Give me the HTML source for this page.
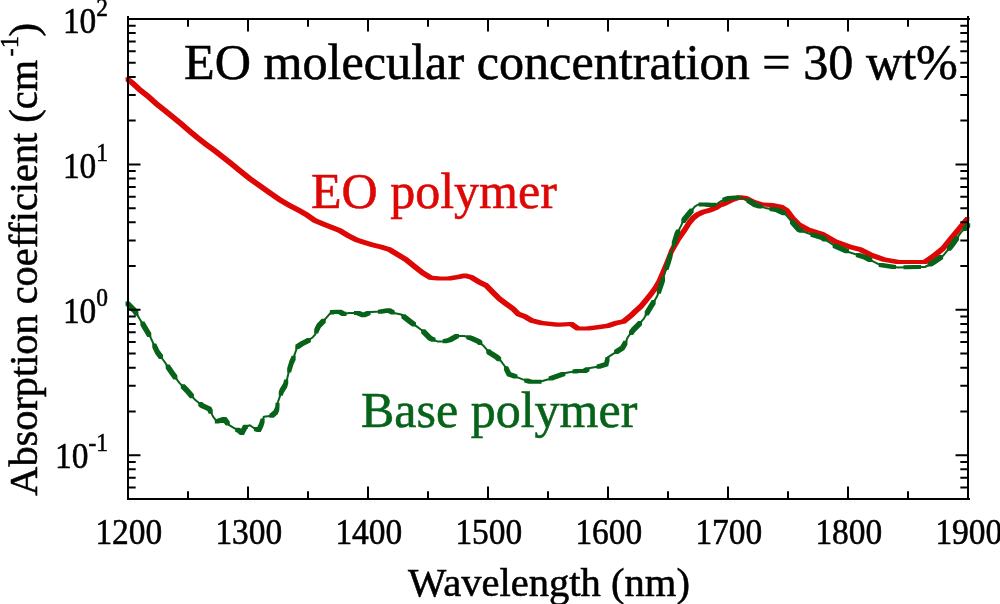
<!DOCTYPE html>
<html><head><meta charset="utf-8"><style>
html,body{margin:0;padding:0;background:#fff;}
svg{display:block;will-change:transform;}
text{font-family:"Liberation Serif",serif;font-variant-ligatures:none;}
</style></head><body>
<svg width="1000" height="604" viewBox="0 0 1000 604">
<rect width="1000" height="604" fill="#fff"/>
<g fill="none" stroke-linejoin="round" stroke-linecap="round">
<path d="M125.60,77.30L129.60,77.30L135.00,81.50L135.00,85.50L131.00,85.50L125.60,81.30ZM131.00,81.50L135.00,81.50L142.00,87.90L142.00,91.90L138.00,91.90L131.00,85.50ZM138.00,87.90L142.00,87.90L150.30,94.60L150.30,98.60L146.30,98.60L138.00,91.90ZM146.30,94.60L150.30,94.60L158.60,102.00L158.60,106.00L154.60,106.00L146.30,98.60ZM154.60,102.00L158.60,102.00L166.80,108.60L166.80,112.60L162.80,112.60L154.60,106.00ZM162.80,108.60L166.80,108.60L175.10,115.30L175.10,119.30L171.10,119.30L162.80,112.60ZM171.10,115.30L175.10,115.30L183.40,121.90L183.40,125.90L179.40,125.90L171.10,119.30ZM179.40,121.90L183.40,121.90L191.70,129.30L191.70,133.30L187.70,133.30L179.40,125.90ZM187.70,129.30L191.70,129.30L199.90,135.90L199.90,139.90L195.90,139.90L187.70,133.30ZM195.90,135.90L199.90,135.90L208.20,142.60L208.20,146.60L204.20,146.60L195.90,139.90ZM204.20,142.60L208.20,142.60L216.50,148.40L216.50,152.40L212.50,152.40L204.20,146.60ZM212.50,148.40L216.50,148.40L224.80,155.00L224.80,159.00L220.80,159.00L212.50,152.40ZM220.80,155.00L224.80,155.00L233.10,161.60L233.10,165.60L229.10,165.60L220.80,159.00ZM229.10,161.60L233.10,161.60L241.60,168.60L241.60,172.60L237.60,172.60L229.10,165.60ZM237.60,168.60L241.60,168.60L251.90,176.80L251.90,180.80L247.90,180.80L237.60,172.60ZM247.90,176.80L251.90,176.80L261.80,183.70L261.80,187.70L257.80,187.70L247.90,180.80ZM257.80,183.70L261.80,183.70L271.70,190.70L271.70,194.70L267.70,194.70L257.80,187.70ZM267.70,190.70L271.70,190.70L281.70,197.70L281.70,201.70L277.70,201.70L267.70,194.70ZM277.70,197.70L281.70,197.70L292.00,203.70L292.00,207.70L288.00,207.70L277.70,201.70ZM288.00,203.70L292.00,203.70L300.30,207.90L300.30,211.90L296.30,211.90L288.00,207.70ZM296.30,207.90L300.30,207.90L308.60,212.80L308.60,216.80L304.60,216.80L296.30,211.90ZM304.60,212.80L308.60,212.80L316.80,218.60L316.80,222.60L312.80,222.60L304.60,216.80ZM312.80,218.60L316.80,218.60L325.10,221.90L325.10,225.90L321.10,225.90L312.80,222.60ZM321.10,221.90L325.10,221.90L333.40,225.30L333.40,229.30L329.40,229.30L321.10,225.90ZM329.40,225.30L333.40,225.30L341.70,228.60L341.70,232.60L337.70,232.60L329.40,229.30ZM337.70,228.60L341.70,228.60L349.90,233.50L349.90,237.50L345.90,237.50L337.70,232.60ZM345.90,233.50L349.90,233.50L358.20,237.70L358.20,241.70L354.20,241.70L345.90,237.50ZM354.20,237.70L358.20,237.70L366.50,240.60L366.50,244.60L362.50,244.60L354.20,241.70ZM362.50,240.60L366.50,240.60L374.80,243.00L374.80,247.00L370.80,247.00L362.50,244.60ZM370.80,243.00L374.80,243.00L383.10,245.10L383.10,249.10L379.10,249.10L370.80,247.00ZM379.10,245.10L383.10,245.10L391.30,247.60L391.30,251.60L387.30,251.60L379.10,249.10ZM387.30,247.60L391.30,247.60L399.60,252.60L399.60,256.60L395.60,256.60L387.30,251.60ZM395.60,252.60L399.60,252.60L407.90,257.50L407.90,261.50L403.90,261.50L395.60,256.60ZM403.90,257.50L407.90,257.50L416.20,264.20L416.20,268.20L412.20,268.20L403.90,261.50ZM412.20,264.20L416.20,264.20L424.50,270.80L424.50,274.80L420.50,274.80L412.20,268.20ZM420.50,270.80L424.50,270.80L432.70,275.70L432.70,279.70L428.70,279.70L420.50,274.80ZM428.70,275.70L432.70,275.70L441.00,276.60L441.00,280.60L437.00,280.60L428.70,279.70ZM437.00,276.60L446.90,276.40L450.90,276.40L450.90,280.40L441.00,280.60L437.00,280.60ZM446.90,276.40L457.70,274.80L461.70,274.80L461.70,278.80L450.90,280.40L446.90,280.40ZM457.70,274.80L462.60,273.60L466.60,273.60L466.60,277.60L461.70,278.80L457.70,278.80ZM462.60,273.60L466.60,273.60L473.30,275.30L473.30,279.30L469.30,279.30L462.60,277.60ZM469.30,275.30L473.30,275.30L481.50,280.20L481.50,284.20L477.50,284.20L469.30,279.30ZM477.50,280.20L481.50,280.20L488.20,283.50L488.20,287.50L484.20,287.50L477.50,284.20ZM484.20,283.50L488.20,283.50L494.80,290.20L494.80,294.20L490.80,294.20L484.20,287.50ZM490.80,290.20L494.80,290.20L501.40,296.80L501.40,300.80L497.40,300.80L490.80,294.20ZM497.40,296.80L501.40,296.80L507.00,301.00L507.00,305.00L503.00,305.00L497.40,300.80ZM503.00,301.00L507.00,301.00L515.30,307.00L515.30,311.00L511.30,311.00L503.00,305.00ZM511.30,307.00L515.30,307.00L520.20,312.00L520.20,316.00L516.20,316.00L511.30,311.00ZM516.20,312.00L520.20,312.00L526.90,314.50L526.90,318.50L522.90,318.50L516.20,316.00ZM522.90,314.50L526.90,314.50L533.50,318.60L533.50,322.60L529.50,322.60L522.90,318.50ZM529.50,318.60L533.50,318.60L543.40,321.10L543.40,325.10L539.40,325.10L529.50,322.60ZM539.40,321.10L543.40,321.10L560.00,322.80L560.00,326.80L556.00,326.80L539.40,325.10ZM556.00,322.80L569.20,321.90L573.20,321.90L573.20,325.90L560.00,326.80L556.00,326.80ZM569.20,321.90L573.20,321.90L579.80,326.40L579.80,330.40L575.80,330.40L569.20,325.90ZM575.80,326.40L589.80,326.40L589.80,330.40L575.80,330.40ZM585.80,326.40L595.70,325.20L599.70,325.20L599.70,329.20L589.80,330.40L585.80,330.40ZM595.70,325.20L606.20,323.80L610.20,323.80L610.20,327.80L599.70,329.20L595.70,329.20ZM606.20,323.80L614.20,321.10L618.20,321.10L618.20,325.10L610.20,327.80L606.20,327.80ZM614.20,321.10L621.60,319.50L625.60,319.50L625.60,323.50L618.20,325.10L614.20,325.10ZM621.60,319.50L629.00,313.50L633.00,313.50L633.00,317.50L625.60,323.50L621.60,323.50ZM629.00,313.50L634.00,308.80L638.00,308.80L638.00,312.80L633.00,317.50L629.00,317.50ZM634.00,308.80L639.00,304.20L643.00,304.20L643.00,308.20L638.00,312.80L634.00,312.80ZM639.00,304.20L644.00,298.30L648.00,298.30L648.00,302.30L643.00,308.20L639.00,308.20ZM644.00,298.30L649.00,292.00L653.00,292.00L653.00,296.00L648.00,302.30L644.00,302.30ZM649.00,292.00L653.00,286.50L657.00,286.50L657.00,290.50L653.00,296.00L649.00,296.00ZM653.00,286.50L656.80,280.00L660.80,280.00L660.80,284.00L657.00,290.50L653.00,290.50ZM656.80,280.00L659.80,273.00L663.80,273.00L663.80,277.00L660.80,284.00L656.80,284.00ZM659.80,273.00L662.80,266.00L666.80,266.00L666.80,270.00L663.80,277.00L659.80,277.00ZM662.80,266.00L665.30,260.00L669.30,260.00L669.30,264.00L666.80,270.00L662.80,270.00ZM665.30,260.00L669.80,248.60L673.80,248.60L673.80,252.60L669.30,264.00L665.30,264.00ZM669.80,248.60L677.00,236.00L681.00,236.00L681.00,240.00L673.80,252.60L669.80,252.60ZM677.00,236.00L682.80,227.70L686.80,227.70L686.80,231.70L681.00,240.00L677.00,240.00ZM682.80,227.70L687.00,221.10L691.00,221.10L691.00,225.10L686.80,231.70L682.80,231.70ZM687.00,221.10L691.10,216.10L695.10,216.10L695.10,220.10L691.00,225.10L687.00,225.10ZM691.10,216.10L695.30,212.80L699.30,212.80L699.30,216.80L695.10,220.10L691.10,220.10ZM695.30,212.80L701.00,209.90L705.00,209.90L705.00,213.90L699.30,216.80L695.30,216.80ZM701.00,209.90L707.70,208.30L711.70,208.30L711.70,212.30L705.00,213.90L701.00,213.90ZM707.70,208.30L714.30,205.40L718.30,205.40L718.30,209.40L711.70,212.30L707.70,212.30ZM714.30,205.40L717.60,203.20L721.60,203.20L721.60,207.20L718.30,209.40L714.30,209.40ZM717.60,203.20L721.50,201.90L725.50,201.90L725.50,205.90L721.60,207.20L717.60,207.20ZM721.50,201.90L729.50,197.90L733.50,197.90L733.50,201.90L725.50,205.90L721.50,205.90ZM729.50,197.90L737.40,195.30L741.40,195.30L741.40,199.30L733.50,201.90L729.50,201.90ZM737.40,195.30L741.40,195.30L747.40,195.90L747.40,199.90L743.40,199.90L737.40,199.30ZM743.40,195.90L747.40,195.90L755.30,199.90L755.30,203.90L751.30,203.90L743.40,199.90ZM751.30,199.90L755.30,199.90L763.30,202.50L763.30,206.50L759.30,206.50L751.30,203.90ZM759.30,202.50L763.30,202.50L773.20,202.90L773.20,206.90L769.20,206.90L759.30,206.50ZM769.20,202.90L773.20,202.90L783.20,204.90L783.20,208.90L779.20,208.90L769.20,206.90ZM779.20,204.90L783.20,204.90L789.10,208.80L789.10,212.80L785.10,212.80L779.20,208.90ZM785.10,208.80L789.10,208.80L795.10,216.80L795.10,220.80L791.10,220.80L785.10,212.80ZM791.10,216.80L795.10,216.80L801.00,222.80L801.00,226.80L797.00,226.80L791.10,220.80ZM797.00,222.80L801.00,222.80L810.00,227.70L810.00,231.70L806.00,231.70L797.00,226.80ZM806.00,227.70L810.00,227.70L824.40,232.20L824.40,236.20L820.40,236.20L806.00,231.70ZM820.40,232.20L824.40,232.20L837.00,239.40L837.00,243.40L833.00,243.40L820.40,236.20ZM833.00,239.40L837.00,239.40L851.40,244.80L851.40,248.80L847.40,248.80L833.00,243.40ZM847.40,244.80L851.40,244.80L862.20,247.50L862.20,251.50L858.20,251.50L847.40,248.80ZM858.20,247.50L862.20,247.50L873.00,252.90L873.00,256.90L869.00,256.90L858.20,251.50ZM869.00,252.90L873.00,252.90L885.60,257.40L885.60,261.40L881.60,261.40L869.00,256.90ZM881.60,257.40L885.60,257.40L900.00,260.10L900.00,264.10L896.00,264.10L881.60,261.40ZM896.00,260.10L914.40,260.10L914.40,264.10L896.00,264.10ZM910.40,260.10L927.00,260.10L927.00,264.10L910.40,264.10ZM923.00,260.10L932.00,253.80L936.00,253.80L936.00,257.80L927.00,264.10L923.00,264.10ZM932.00,253.80L941.00,246.60L945.00,246.60L945.00,250.60L936.00,257.80L932.00,257.80ZM941.00,246.60L948.20,237.60L952.20,237.60L952.20,241.60L945.00,250.60L941.00,250.60ZM948.20,237.60L957.20,226.80L961.20,226.80L961.20,230.80L952.20,241.60L948.20,241.60ZM957.20,226.80L965.30,216.90L969.30,216.90L969.30,220.90L961.20,230.80L957.20,230.80Z" fill="#dd0806" stroke="none"/>
<polyline points="127.5,303.6 134.9,311.1 142.4,323.5 149.8,335.9 157.3,352.0 164.7,362.0 172.1,373.1 179.6,383.1 187.0,390.5 194.5,399.2 201.9,405.4 209.4,409.1 213.1,416.6 216.8,421.5 224.3,419.0 229.2,425.2 235.0,428.7 239.0,430.6 242.0,433.1 244.9,427.2 249.9,425.2 254.9,428.7 258.8,430.1 261.3,424.7 263.8,416.7 267.8,416.2 271.7,415.7 275.7,412.3 277.2,408.8 277.7,402.8 279.7,396.9 281.7,390.9 285.1,385.5 287.3,378.0 289.5,369.0 291.5,362.5 293.4,358.6 294.9,353.6 297.4,346.7 301.9,343.7 307.8,340.7 312.8,337.2 315.3,334.3 316.8,329.8 318.8,325.8 322.7,321.8 326.7,317.4 329.7,313.9 332.7,311.9 339.6,311.7 343.6,313.9 349.0,313.0 358.0,313.0 363.4,315.2 370.6,312.1 381.4,311.6 388.6,310.3 394.0,313.0 401.2,314.4 408.4,320.2 415.6,325.6 422.8,331.0 430.0,338.2 437.2,341.4 444.4,341.4 449.8,340.0 457.0,336.0 464.2,336.0 471.4,338.2 478.6,341.4 484.0,346.3 489.4,352.6 496.6,357.1 500.0,359.8 505.4,367.0 509.0,374.2 516.2,376.9 523.4,379.6 530.6,381.8 539.6,381.8 548.6,379.2 557.6,376.0 566.6,372.8 577.4,371.0 584.6,371.0 590.0,367.9 599.0,366.6 606.2,364.3 608.0,357.1 615.2,352.6 622.4,348.1 626.0,341.8 627.5,337.7 633.4,329.7 638.7,324.4 643.9,318.6 648.9,309.7 653.9,301.7 656.8,296.8 658.8,291.8 660.8,285.8 662.8,279.9 664.8,272.9 666.8,267.0 668.8,261.0 671.8,250.6 676.6,234.7 680.7,226.4 684.0,219.8 688.1,214.8 691.5,210.7 694.8,206.6 698.1,204.5 705.5,204.5 709.7,204.9 716.3,204.5 719.6,202.0 721.5,200.9 729.5,197.9 739.4,197.3 747.4,199.9 755.3,204.9 765.2,207.9 777.2,209.9 785.1,213.8 791.1,220.8 799.0,229.7 808.0,233.3 822.4,237.8 835.0,245.9 849.4,252.2 865.6,257.6 880.0,264.8 898.0,267.5 916.0,267.0 925.0,267.0 934.0,262.1 943.0,255.8 952.0,245.0 961.0,232.4 968.2,225.2" stroke="#07631a" stroke-width="2"/>
<path d="M125.50,301.60L129.50,301.60L136.90,309.10L136.90,313.10L132.90,313.10L125.50,305.60ZM132.90,309.10L136.90,309.10L138.43,311.64L138.43,315.64L134.43,315.64L132.90,313.10ZM140.39,321.48L144.39,321.48L144.40,321.50L144.40,325.50L140.40,325.50L140.39,325.48ZM140.40,321.50L144.40,321.50L151.30,333.07L151.30,337.07L147.30,337.07L140.40,325.50ZM152.25,343.45L156.25,343.45L159.30,350.00L159.30,354.00L155.30,354.00L152.25,347.45ZM155.30,350.00L159.30,350.00L163.03,355.04L163.03,359.04L159.03,359.04L155.30,354.00ZM165.66,364.44L169.66,364.44L174.10,371.10L174.10,375.10L170.10,375.10L165.66,368.44ZM170.10,371.10L174.10,371.10L177.39,375.49L177.39,379.49L173.39,379.49L170.10,375.10ZM180.77,384.27L184.77,384.27L189.00,388.50L189.00,392.50L185.00,392.50L180.77,388.27ZM185.00,388.50L189.00,388.50L193.91,394.20L193.91,398.20L189.91,398.20L185.00,392.50ZM198.28,402.04L202.28,402.04L203.90,403.40L203.90,407.40L199.90,407.40L198.28,406.04ZM199.90,403.40L203.90,403.40L211.40,407.10L211.40,411.10L207.40,411.10L199.90,407.40ZM207.40,407.10L211.40,407.10L212.74,409.81L212.74,413.81L208.74,413.81L207.40,411.10ZM214.82,419.49L222.30,417.00L226.30,417.00L226.30,421.00L218.82,423.49L214.82,423.49ZM222.30,417.00L226.30,417.00L229.78,421.40L229.78,425.40L225.78,425.40L222.30,421.00ZM235.20,427.75L239.20,427.75L241.00,428.60L241.00,432.60L237.00,432.60L235.20,431.75ZM237.00,428.60L241.00,428.60L244.00,431.10L244.00,435.10L240.00,435.10L237.00,432.60ZM240.00,431.10L242.90,425.20L246.90,425.20L246.90,429.20L244.00,435.10L240.00,435.10ZM242.90,425.20L243.85,424.82L247.85,424.82L247.85,428.82L246.90,429.20L242.90,429.20ZM253.88,427.05L257.88,427.05L260.80,428.10L260.80,432.10L256.80,432.10L253.88,431.05ZM256.80,428.10L259.30,422.70L263.30,422.70L263.30,426.70L260.80,432.10L256.80,432.10ZM259.30,422.70L260.63,418.46L264.63,418.46L264.63,422.46L263.30,426.70L259.30,426.70ZM269.30,413.75L269.70,413.70L273.70,413.70L273.70,417.70L273.30,417.75L269.30,417.75ZM269.70,413.70L273.70,410.30L277.70,410.30L277.70,414.30L273.70,417.70L269.70,417.70ZM273.70,410.30L275.20,406.80L279.20,406.80L279.20,410.80L277.70,414.30L273.70,414.30ZM275.20,406.80L275.54,402.77L279.54,402.77L279.54,406.77L279.20,410.80L275.20,410.80ZM278.74,391.78L279.70,388.90L283.70,388.90L283.70,392.90L282.74,395.78L278.74,395.78ZM279.70,388.90L283.10,383.50L287.10,383.50L287.10,387.50L283.70,392.90L279.70,392.90ZM283.10,383.50L284.25,379.58L288.25,379.58L288.25,383.58L287.10,387.50L283.10,387.50ZM287.15,368.45L287.50,367.00L291.50,367.00L291.50,371.00L291.15,372.45L287.15,372.45ZM287.50,367.00L289.50,360.50L293.50,360.50L293.50,364.50L291.50,371.00L287.50,371.00ZM289.50,360.50L291.40,356.60L295.40,356.60L295.40,360.60L293.50,364.50L289.50,364.50ZM291.40,356.60L291.65,355.77L295.65,355.77L295.65,359.77L295.40,360.60L291.40,360.60ZM295.33,344.88L295.40,344.70L299.40,344.70L299.40,348.70L299.33,348.88L295.33,348.88ZM295.40,344.70L299.90,341.70L303.90,341.70L303.90,345.70L299.40,348.70L295.40,348.70ZM299.90,341.70L305.80,338.70L309.80,338.70L309.80,342.70L303.90,345.70L299.90,345.70ZM305.80,338.70L306.85,337.97L310.85,337.97L310.85,341.97L309.80,342.70L305.80,342.70ZM314.20,329.60L314.80,327.80L318.80,327.80L318.80,331.80L318.20,333.60L314.20,333.60ZM314.80,327.80L316.80,323.80L320.80,323.80L320.80,327.80L318.80,331.80L314.80,331.80ZM316.80,323.80L320.70,319.80L324.70,319.80L324.70,323.80L320.80,327.80L316.80,327.80ZM320.70,319.80L321.74,318.66L325.74,318.66L325.74,322.66L324.70,323.80L320.70,323.80ZM329.77,310.52L330.70,309.90L334.70,309.90L334.70,313.90L333.77,314.52L329.77,314.52ZM330.70,309.90L337.60,309.70L341.60,309.70L341.60,313.70L334.70,313.90L330.70,313.90ZM337.60,309.70L341.60,309.70L345.60,311.90L345.60,315.90L341.60,315.90L337.60,313.70ZM341.60,311.90L342.50,311.75L346.50,311.75L346.50,315.75L345.60,315.90L341.60,315.90ZM353.94,311.00L360.00,311.00L360.00,315.00L353.94,315.00ZM356.00,311.00L360.00,311.00L365.40,313.20L365.40,317.20L361.40,317.20L356.00,315.00ZM361.40,313.20L366.55,310.98L370.55,310.98L370.55,314.98L365.40,317.20L361.40,317.20ZM377.86,309.67L379.40,309.60L383.40,309.60L383.40,313.60L381.86,313.67L377.86,313.67ZM379.40,309.60L386.60,308.30L390.60,308.30L390.60,312.30L383.40,313.60L379.40,313.60ZM386.60,308.30L390.60,308.30L394.75,310.38L394.75,314.38L390.75,314.38L386.60,312.30ZM401.36,314.14L405.36,314.14L410.40,318.20L410.40,322.20L406.40,322.20L401.36,318.14ZM406.40,318.20L410.40,318.20L416.02,322.42L416.02,326.42L412.02,326.42L406.40,322.20ZM421.17,329.37L425.17,329.37L432.00,336.20L432.00,340.20L428.00,340.20L421.17,333.37ZM428.00,336.20L432.00,336.20L435.51,337.76L435.51,341.76L431.51,341.76L428.00,340.20ZM442.66,339.33L447.80,338.00L451.80,338.00L451.80,342.00L446.66,343.33L442.66,343.33ZM447.80,338.00L454.96,334.02L458.96,334.02L458.96,338.02L451.80,342.00L447.80,342.00ZM466.26,335.24L470.26,335.24L473.40,336.20L473.40,340.20L469.40,340.20L466.26,339.24ZM469.40,336.20L473.40,336.20L480.60,339.40L480.60,343.40L476.60,343.40L469.40,340.20ZM476.60,339.40L480.60,339.40L482.33,340.97L482.33,344.97L478.33,344.97L476.60,343.40ZM486.26,349.27L490.26,349.27L491.40,350.60L491.40,354.60L487.40,354.60L486.26,353.27ZM487.40,350.60L491.40,350.60L498.60,355.10L498.60,359.10L494.60,359.10L487.40,354.60ZM494.60,355.10L498.60,355.10L501.15,357.13L501.15,361.13L497.15,361.13L494.60,359.10ZM504.04,366.27L508.04,366.27L511.00,372.20L511.00,376.20L507.00,376.20L504.04,370.27ZM507.00,372.20L511.00,372.20L517.43,374.61L517.43,378.61L513.43,378.61L507.00,376.20ZM524.26,378.47L528.26,378.47L532.60,379.80L532.60,383.80L528.60,383.80L524.26,382.47ZM528.60,379.80L541.56,379.80L541.56,383.80L528.60,383.80ZM548.57,376.50L555.60,374.00L559.60,374.00L559.60,378.00L552.57,380.50L548.57,380.50ZM555.60,374.00L561.29,371.98L565.29,371.98L565.29,375.98L559.60,378.00L555.60,378.00ZM572.48,369.49L575.40,369.00L579.40,369.00L579.40,373.00L576.48,373.49L572.48,373.49ZM575.40,369.00L586.60,369.00L586.60,373.00L575.40,373.00ZM582.60,369.00L585.50,367.34L589.50,367.34L589.50,371.34L586.60,373.00L582.60,373.00ZM596.53,364.67L597.00,364.60L601.00,364.60L601.00,368.60L600.53,368.67L596.53,368.67ZM597.00,364.60L604.20,362.30L608.20,362.30L608.20,366.30L601.00,368.60L597.00,368.60ZM604.20,362.30L605.53,357.00L609.53,357.00L609.53,361.00L608.20,366.30L604.20,366.30ZM614.09,350.04L620.40,346.10L624.40,346.10L624.40,350.10L618.09,354.04L614.09,354.04ZM620.40,346.10L623.41,340.84L627.41,340.84L627.41,344.84L624.40,350.10L620.40,350.10ZM629.03,330.92L631.40,327.70L635.40,327.70L635.40,331.70L633.03,334.92L629.03,334.92ZM631.40,327.70L636.70,322.40L640.70,322.40L640.70,326.40L635.40,331.70L631.40,331.70ZM636.70,322.40L638.04,320.91L642.04,320.91L642.04,324.91L640.70,326.40L636.70,326.40ZM644.70,311.62L646.90,307.70L650.90,307.70L650.90,311.70L648.70,315.62L644.70,315.62ZM646.90,307.70L651.67,300.06L655.67,300.06L655.67,304.06L650.90,311.70L646.90,311.70ZM656.80,289.80L660.80,289.80L660.80,293.81L656.80,293.81ZM656.80,289.80L658.80,283.80L662.80,283.80L662.80,287.80L660.80,293.80L656.80,293.80ZM658.80,283.80L660.80,277.90L664.80,277.90L664.80,281.90L662.80,287.80L658.80,287.80ZM660.80,277.90L661.06,277.00L665.06,277.00L665.06,281.00L664.80,281.90L660.80,281.90ZM664.46,266.02L664.80,265.00L668.80,265.00L668.80,269.00L668.46,270.02L664.46,270.02ZM664.80,265.00L666.80,259.00L670.80,259.00L670.80,263.00L668.80,269.00L664.80,269.00ZM666.80,259.00L668.49,253.14L672.49,253.14L672.49,257.14L670.80,263.00L666.80,263.00ZM671.76,242.11L674.60,232.70L678.60,232.70L678.60,236.70L675.76,246.11L671.76,246.11ZM674.60,232.70L676.23,229.41L680.23,229.41L680.23,233.41L678.60,236.70L674.60,236.70ZM681.34,219.11L682.00,217.80L686.00,217.80L686.00,221.80L685.34,223.11L681.34,223.11ZM682.00,217.80L686.10,212.80L690.10,212.80L690.10,216.80L686.00,221.80L682.00,221.80ZM686.10,212.80L689.50,208.70L693.50,208.70L693.50,212.70L690.10,216.80L686.10,216.80ZM689.50,208.70L689.65,208.51L693.65,208.51L693.65,212.51L693.50,212.70L689.50,212.70ZM698.67,202.50L707.50,202.50L707.50,206.50L698.67,206.50ZM703.50,202.50L707.50,202.50L711.70,202.90L711.70,206.90L707.70,206.90L703.50,206.50ZM707.70,202.90L712.14,202.63L716.14,202.63L716.14,206.63L711.70,206.90L707.70,206.90ZM722.31,197.85L727.50,195.90L731.50,195.90L731.50,199.90L726.31,201.85L722.31,201.85ZM727.50,195.90L735.44,195.42L739.44,195.42L739.44,199.42L731.50,199.90L727.50,199.90ZM746.35,198.50L750.35,198.50L757.30,202.90L757.30,206.90L753.30,206.90L746.35,202.50ZM753.30,202.90L757.30,202.90L762.35,204.43L762.35,208.43L758.35,208.43L753.30,206.90ZM769.55,206.96L773.55,206.96L779.20,207.90L779.20,211.90L775.20,211.90L769.55,210.96ZM775.20,207.90L779.20,207.90L786.16,211.34L786.16,215.34L782.16,215.34L775.20,211.90ZM789.92,219.73L793.92,219.73L801.00,227.70L801.00,231.70L797.00,231.70L789.92,223.73ZM797.00,227.70L801.00,227.70L803.63,228.75L803.63,232.75L799.63,232.75L797.00,231.70ZM810.43,232.69L814.43,232.69L824.40,235.80L824.40,239.80L820.40,239.80L810.43,236.69ZM820.40,235.80L824.40,235.80L826.97,237.45L826.97,241.45L822.97,241.45L820.40,239.80ZM832.64,243.67L836.64,243.67L837.00,243.90L837.00,247.90L833.00,247.90L832.64,247.67ZM833.00,243.90L837.00,243.90L848.98,249.14L848.98,253.14L844.98,253.14L833.00,247.90ZM855.81,253.00L859.81,253.00L867.60,255.60L867.60,259.60L863.60,259.60L855.81,257.00ZM863.60,255.60L867.60,255.60L872.33,257.96L872.33,261.96L868.33,261.96L863.60,259.60ZM878.68,262.90L882.68,262.90L896.03,264.90L896.03,268.90L892.03,268.90L878.68,266.90ZM903.48,265.29L914.00,265.00L918.00,265.00L918.00,269.00L907.48,269.29L903.48,269.29ZM914.00,265.00L920.98,265.00L920.98,269.00L914.00,269.00ZM927.81,262.38L932.00,260.10L936.00,260.10L936.00,264.10L931.81,266.38L927.81,266.38ZM932.00,260.10L939.15,255.09L943.15,255.09L943.15,259.09L936.00,264.10L932.00,264.10ZM946.92,246.70L950.00,243.00L954.00,243.00L954.00,247.00L950.92,250.70L946.92,250.70ZM950.00,243.00L955.05,235.93L959.05,235.93L959.05,239.93L954.00,247.00L950.00,247.00ZM962.32,227.08L966.20,223.20L970.20,223.20L970.20,227.20L966.32,231.08L962.32,231.08Z" fill="#07631a" stroke="none"/>
</g>
<path d="M188.0,499V491.3M188.0,19V26.7M248.0,499V486.5M248.0,19V31.5M308.0,499V491.3M308.0,19V26.7M368.0,499V486.5M368.0,19V31.5M428.0,499V491.3M428.0,19V26.7M488.0,499V486.5M488.0,19V31.5M548.0,499V491.3M548.0,19V26.7M608.0,499V486.5M608.0,19V31.5M668.0,499V491.3M668.0,19V26.7M728.0,499V486.5M728.0,19V31.5M788.0,499V491.3M788.0,19V26.7M848.0,499V486.5M848.0,19V31.5M908.0,499V491.3M908.0,19V26.7M128,487.5H135.7M968,487.5H960.3M128,477.8H135.7M968,477.8H960.3M128,469.3H135.7M968,469.3H960.3M128,461.9H135.7M968,461.9H960.3M128,455.2H140.5M968,455.2H955.5M128,411.5H135.7M968,411.5H960.3M128,385.8H135.7M968,385.8H960.3M128,367.7H135.7M968,367.7H960.3M128,353.6H135.7M968,353.6H960.3M128,342.1H135.7M968,342.1H960.3M128,332.3H135.7M968,332.3H960.3M128,323.9H135.7M968,323.9H960.3M128,316.5H135.7M968,316.5H960.3M128,309.8H140.5M968,309.8H955.5M128,266.0H135.7M968,266.0H960.3M128,240.4H135.7M968,240.4H960.3M128,222.3H135.7M968,222.3H960.3M128,208.2H135.7M968,208.2H960.3M128,196.7H135.7M968,196.7H960.3M128,186.9H135.7M968,186.9H960.3M128,178.5H135.7M968,178.5H960.3M128,171.1H135.7M968,171.1H960.3M128,164.4H140.5M968,164.4H955.5M128,120.6H135.7M968,120.6H960.3M128,95.0H135.7M968,95.0H960.3M128,76.9H135.7M968,76.9H960.3M128,62.8H135.7M968,62.8H960.3M128,51.3H135.7M968,51.3H960.3M128,41.5H135.7M968,41.5H960.3M128,33.1H135.7M968,33.1H960.3M128,25.7H135.7M968,25.7H960.3" stroke="#000" stroke-width="2" fill="none"/>
<path d="M127,19H970M127,499H970M128,16V500M968,16V500" stroke="#000" stroke-width="2" fill="none"/>
<g fill="#000" stroke="#000" stroke-width="0.55">
<g font-size="35"><text transform="translate(128.8,544) scale(0.955,1)" text-anchor="middle">1200</text><text transform="translate(248.8,544) scale(0.955,1)" text-anchor="middle">1300</text><text transform="translate(368.8,544) scale(0.955,1)" text-anchor="middle">1400</text><text transform="translate(488.8,544) scale(0.955,1)" text-anchor="middle">1500</text><text transform="translate(608.8,544) scale(0.955,1)" text-anchor="middle">1600</text><text transform="translate(728.8,544) scale(0.955,1)" text-anchor="middle">1700</text><text transform="translate(848.8,544) scale(0.955,1)" text-anchor="middle">1800</text><text transform="translate(968.8,544) scale(0.955,1)" text-anchor="middle">1900</text><text transform="translate(108,32.7) scale(0.955,1)" text-anchor="end">10<tspan dy="-16.5" font-size="24.5">2</tspan></text><text transform="translate(108,177.8) scale(0.955,1)" text-anchor="end">10<tspan dy="-16.5" font-size="24.5">1</tspan></text><text transform="translate(108,322.7) scale(0.955,1)" text-anchor="end">10<tspan dy="-16.5" font-size="24.5">0</tspan></text><text transform="translate(108,467.7) scale(0.955,1)" text-anchor="end">10<tspan dy="-16.5" font-size="24.5">-1</tspan></text></g>
<text x="549" y="595.5" text-anchor="middle" font-size="40.6">Wavelength (nm)</text>
<text transform="translate(37,495.7) rotate(-90)" font-size="40.3">Absorption coefficient (cm<tspan dx="3.5" dy="-19" font-size="24.5">-</tspan><tspan dx="0" font-size="24.5">1</tspan><tspan dx="-0.5" dy="19">)</tspan></text>
<text x="184" y="79" font-size="50.2">EO molecular concentration = 30 wt%</text>
</g>
<text x="311" y="208" font-size="50" fill="#dd0806" stroke="#dd0806" stroke-width="0.55">EO polymer</text>
<text x="361" y="427" font-size="50" fill="#07631a" stroke="#07631a" stroke-width="0.55">Base polymer</text>
</svg>
</body></html>
